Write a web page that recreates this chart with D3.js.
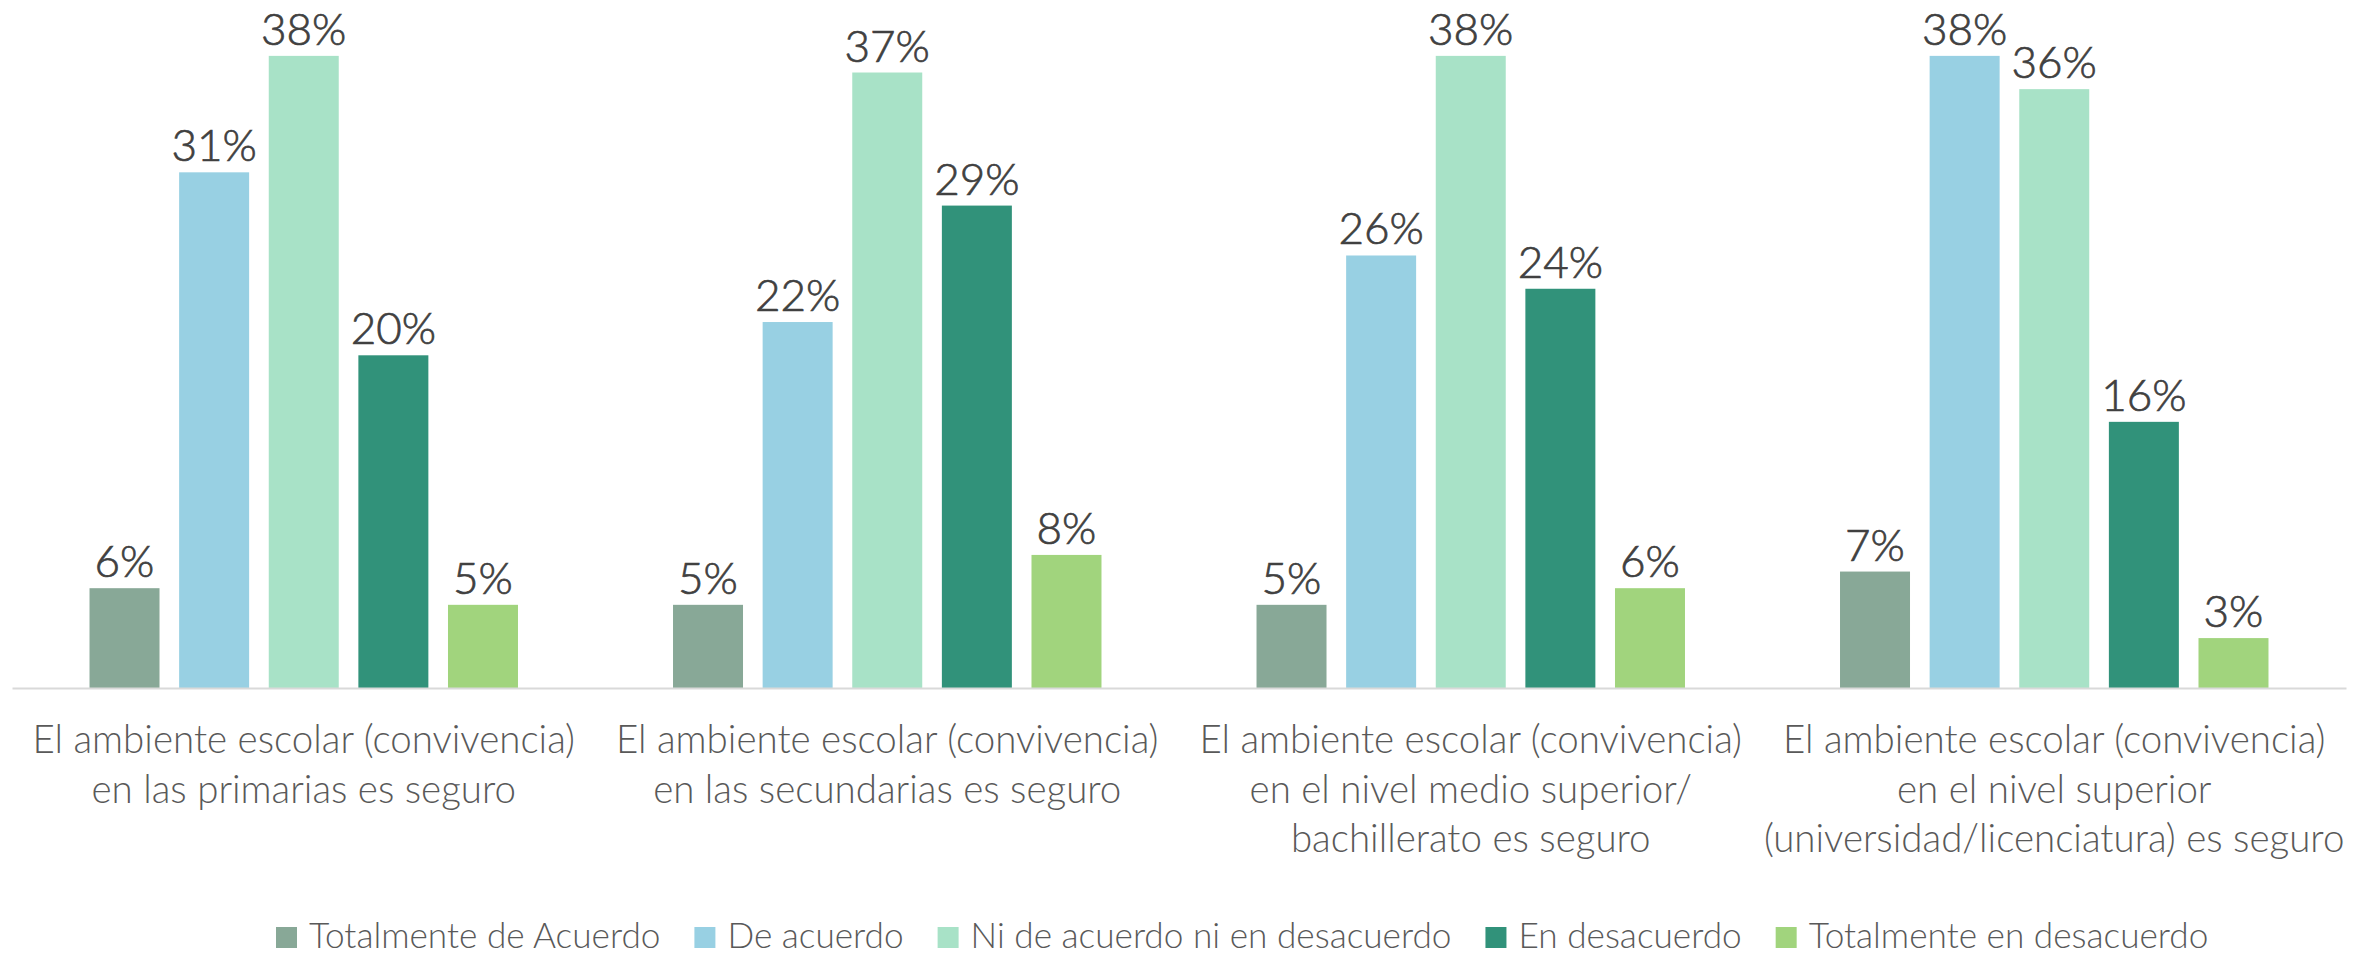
<!DOCTYPE html>
<html lang="es">
<head>
  <meta charset="utf-8">
  <title>Ambiente escolar</title>
  <script src="https://d3js.org/d3.v7.min.js"></script>
  <style>
    body { margin: 0; background: #fff; }
    svg { display: block; }
  </style>
</head>
<body>
  <div class="chart"></div>

  <script type="text/javascript">
    var W = 2374, H = 955;

    // categorias del eje x (una entrada por linea)
    var categories = [
      ["El ambiente escolar (convivencia)", "en las primarias es seguro"],
      ["El ambiente escolar (convivencia)", "en las secundarias es seguro"],
      ["El ambiente escolar (convivencia)", "en el nivel medio superior/", "bachillerato es seguro"],
      ["El ambiente escolar (convivencia)", "en el nivel superior", "(universidad/licenciatura) es seguro"]
    ];
    var series = ["Totalmente de Acuerdo", "De acuerdo", "Ni de acuerdo ni en desacuerdo", "En desacuerdo", "Totalmente en desacuerdo"];
    var colors = ["#88a897", "#98d0e3", "#a8e2c7", "#31927a", "#a1d47d"];

    // valores por serie, en el orden de las categorias
    var totalAcuerdo    = [0.06, 0.05, 0.05, 0.07];
    var deAcuerdo       = [0.31, 0.22, 0.26, 0.38];
    var ni              = [0.38, 0.37, 0.38, 0.36];
    var enDesacuerdo    = [0.20, 0.29, 0.24, 0.16];
    var totalDesacuerdo = [0.05, 0.08, 0.06, 0.03];
    var values = [totalAcuerdo, deAcuerdo, ni, enDesacuerdo, totalDesacuerdo];

    var svg = d3.select(".chart").append("svg")
      .attr("width", W)
      .attr("height", H);

    var x0 = d3.scaleBand()
      .domain(d3.range(categories.length))
      .range([12, 2346]);

    var x1 = d3.scaleBand()
      .domain(d3.range(series.length))
      .range([0, x0.bandwidth()])
      .paddingInner(0.219)
      .paddingOuter(0.865);

    var y = d3.scaleLinear()
      .domain([0, 0.40])
      .range([688, 22.6]);

    var fmt = d3.format(".0%");

    var groups = svg.selectAll("g.grp")
      .data(categories)
      .enter().append("g")
      .attr("class", "grp")
      .attr("transform", function(d, i) { return "translate(" + x0(i) + ",0)"; });

    groups.each(function(cat, ci) {
      var g = d3.select(this);
      series.forEach(function(s, si) {
        var v = values[si][ci];
        g.append("rect")
          .attr("x", x1(si))
          .attr("y", y(v))
          .attr("width", x1.bandwidth())
          .attr("height", y(0) - y(v))
          .style("fill", colors[si]);
        g.append("text")
          .attr("x", x1(si) + x1.bandwidth() / 2)
          .attr("y", y(v) - 11)
          .attr("text-anchor", "middle")
          .style("font-family", "Lato, 'Open Sans', sans-serif")
          .style("font-weight", 300)
          .style("font-size", "44px")
          .style("fill", "#404040")
          .style("stroke", "#404040")
          .style("stroke-width", 0.7)
          .text(fmt(v));
      });
    });

    // eje x
    var xAxis = d3.axisBottom(x0).tickSize(0).tickFormat("");
    var ax = svg.append("g")
      .attr("transform", "translate(0," + y(0) + ")")
      .call(xAxis);
    ax.select(".domain").attr("stroke", "#d9d9d9").attr("stroke-width", 2);

    ax.selectAll(".tick").each(function(d) {
      var t = d3.select(this).select("text")
        .attr("y", 0)
        .attr("dy", null)
        .attr("text-anchor", "middle")
        .style("font-family", "Lato, 'Open Sans', sans-serif")
        .style("font-weight", 300)
        .style("font-size", "38.5px")
        .style("fill", "#595959");
      categories[d].forEach(function(line, li) {
        t.append("tspan")
          .attr("x", 0)
          .attr("y", 65 + li * 49.5)
          .text(line);
      });
    });

    // leyenda
    var legend = svg.append("g").attr("class", "legend");
    var lx = 276;
    series.forEach(function(s, i) {
      legend.append("rect")
        .attr("x", lx)
        .attr("y", 927)
        .attr("width", 21)
        .attr("height", 21)
        .style("fill", colors[i]);
      var t = legend.append("text")
        .attr("x", lx + 33)
        .attr("y", 948)
        .style("font-family", "Lato, 'Open Sans', sans-serif")
        .style("font-weight", 300)
        .style("font-size", "35.2px")
        .style("fill", "#595959")
        .text(s);
      lx += 33 + t.node().getComputedTextLength() + 34;
    });
  </script>
</body>
</html>
